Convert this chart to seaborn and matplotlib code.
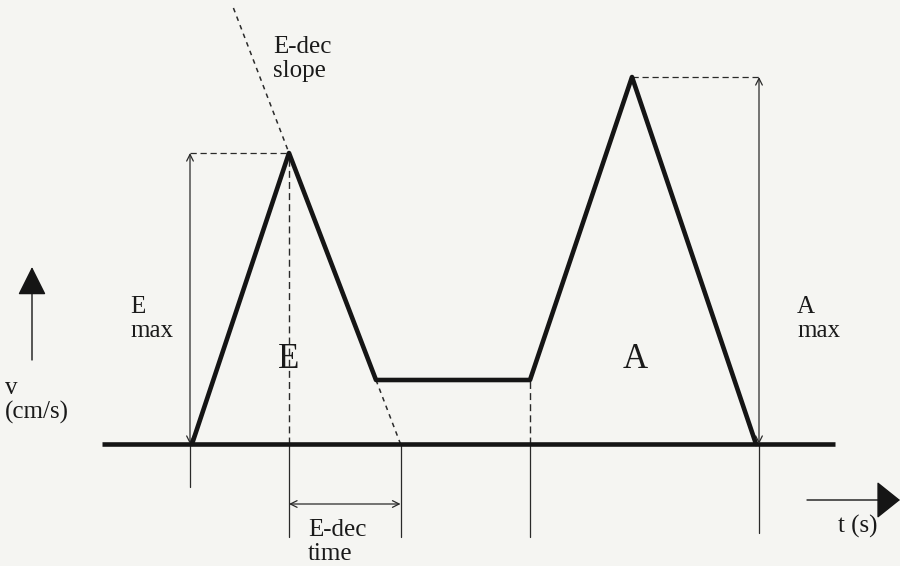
import matplotlib
matplotlib.use("Agg")
import matplotlib.pyplot as plt
import seaborn as sns
import pandas as pd

# ---- data: schematic mitral-inflow Doppler waveform ----
time = [0, 97, 184, 338, 440, 564]          # time units (arbitrary)
velocity = [0, 58.2, 12.8, 12.8, 73.4, 0]   # cm/s (arbitrary)
baseline_range = [-90, 643]
e_label = "E"
a_label = "A"

sns.set_theme(style="white")
plt.rcParams["font.family"] = ["Liberation Serif", "DejaVu Serif"]

BG = "#f5f5f2"
THICK = "#151515"
THIN = "#2a2a2a"

fig = plt.figure(figsize=(9, 5.66), dpi=100)
fig.patch.set_facecolor(BG)
ax = fig.add_axes([0, 0, 1, 1])
ax.set_facecolor(BG)
ax.set_xlim(-192, 708)
ax.set_ylim(-24.4, 88.8)
ax.axis("off")

df = pd.DataFrame({"time": time, "velocity": velocity})

# baseline
ax.plot(baseline_range, [0, 0], color=THICK, lw=3.3, solid_capstyle="butt", zorder=3)
# waveform
sns.lineplot(data=df, x="time", y="velocity", ax=ax, color=THICK, lw=3.3,
             sort=False, estimator=None, zorder=4)

t0, te, tdec, tpl, ta, tend = time
v0, ve, vdec, vpl, va, vend = velocity
slope = (ve - vdec) / (tdec - te)
t_edt = te + ve / slope                 # E-dec extrapolated to baseline
t_top = te - (87.2 - ve) / slope        # slope line extended upward

dash = (0, (5, 3))
sdash = (0, (3, 3))
below = -18.6

# E-dec slope extension (dashed)
ax.plot([t_top, te], [87.2, ve], color=THIN, lw=1.1, ls=sdash)
ax.plot([tdec, t_edt], [vdec, 0], color=THIN, lw=1.1, ls=sdash)

# E max arrow
xe = t0 - 2
ax.annotate("", xy=(xe, ve), xytext=(xe, 0),
            arrowprops=dict(arrowstyle="<->", color=THIN, lw=0.9,
                            mutation_scale=12, shrinkA=0, shrinkB=0))
ax.plot([xe, xe], [0, -8.6], color=THIN, lw=0.9)
ax.plot([xe, te], [ve, ve], color=THIN, lw=0.9, ls=dash)

# E peak vertical
ax.plot([te, te], [0, ve], color=THIN, lw=1.0, ls=dash)
ax.plot([te, te], [0, below], color=THIN, lw=0.9)
# E-dec end vertical
ax.plot([t_edt, t_edt], [0, below], color=THIN, lw=0.9)
# E-dec time arrow
ax.annotate("", xy=(t_edt, -12.0), xytext=(te, -12.0),
            arrowprops=dict(arrowstyle="<->", color=THIN, lw=0.9,
                            mutation_scale=12, shrinkA=0, shrinkB=0))
# plateau end vertical
ax.plot([tpl, tpl], [0, vpl], color=THIN, lw=1.0, ls=dash)
ax.plot([tpl, tpl], [0, below], color=THIN, lw=0.9)

# A max arrow
xa = tend + 3
ax.annotate("", xy=(xa, va), xytext=(xa, 0),
            arrowprops=dict(arrowstyle="<->", color=THIN, lw=0.9,
                            mutation_scale=12, shrinkA=0, shrinkB=0))
ax.plot([xa, xa], [0, -17.8], color=THIN, lw=0.9)
ax.plot([ta, xa], [va, va], color=THIN, lw=0.9, ls=dash)

# axis arrows
ax.annotate("", xy=(-160, 35.4), xytext=(-160, 16.8),
            arrowprops=dict(arrowstyle="-|>,head_length=0.9,head_width=0.45",
                            color=THICK, lw=1.0, mutation_scale=20,
                            shrinkA=0, shrinkB=0))
ax.annotate("", xy=(708, -11.2), xytext=(615, -11.2),
            arrowprops=dict(arrowstyle="-|>,head_length=0.75,head_width=0.6",
                            color=THICK, lw=1.0, mutation_scale=20,
                            shrinkA=0, shrinkB=0))

fs = 18
tc = "#1a1a1a"
ls_ = 1.1
ax.text(81, 81.6, "E-dec\nslope", fontsize=fs, color=tc, ha="left", va="top", linespacing=ls_)
ax.text(-62, 29.6, "E\nmax", fontsize=fs, color=tc, ha="left", va="top", linespacing=ls_)
ax.text(-187, 13.4, "v\n(cm/s)", fontsize=fs, color=tc, ha="left", va="top", linespacing=ls_)
ax.text(te, 16.8, e_label, fontsize=25, color=tc, ha="center", va="center")
ax.text(ta + 3, 16.8, a_label, fontsize=25, color=tc, ha="center", va="center")
ax.text(605, 29.6, "A\nmax", fontsize=fs, color=tc, ha="left", va="top", linespacing=ls_)
ax.text(116, -15.0, "E-dec\ntime", fontsize=fs, color=tc, ha="left", va="top", linespacing=ls_)
ax.text(646, -14.2, "t (s)", fontsize=fs, color=tc, ha="left", va="top")

fig.savefig("out.png", dpi=100, facecolor=BG)
